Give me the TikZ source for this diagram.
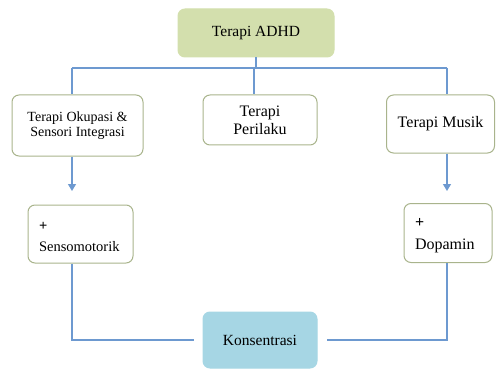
\documentclass[tikz,border=0pt]{standalone}
\usepackage{fontspec}
\setmainfont{Liberation Serif}
\usetikzlibrary{arrows.meta}
\definecolor{boxedge}{HTML}{A9B48C}
\definecolor{topfill}{HTML}{D3DFAD}
\definecolor{konfill}{HTML}{A6D6E4}
\definecolor{linkblue}{HTML}{6D99D0}
\tikzset{
  box/.style={draw=boxedge, line width=1pt, rounded corners=7pt, fill=white, align=center, inner sep=0pt, font=\fontsize{16}{18}\selectfont},
  leftbox/.style={box, align=left, inner xsep=11pt, inner ysep=0pt},
  link/.style={draw=linkblue, line width=1.3pt},
  arr/.style={link, -{Triangle[length=7pt,width=8pt]}}
}
\begin{document}
\begin{tikzpicture}[x=1pt,y=-1pt]
\useasboundingbox (0,0) rectangle (496,369);
\node[box, draw=topfill, fill=topfill, minimum width=156pt, minimum height=48pt, font=\fontsize{15.5}{18}\selectfont] (adhd) at (256,33) {Terapi ADHD};
\node[box, minimum width=131pt, minimum height=61pt, font=\fontsize{14}{15}\selectfont] (oku) at (77.5,125.5) {Terapi Okupasi \&\\Sensori Integrasi};
\node[box, minimum width=114pt, minimum height=50pt] (peri) at (260,120) {Terapi\\Perilaku};
\node[box, minimum width=108pt, minimum height=58pt] (musik) at (440.5,124) {Terapi Musik};
\node[leftbox, text width=83pt, minimum height=58pt, font=\fontsize{14.5}{21}\selectfont] (sens) at (80.5,234) {\raisebox{0pt}[14pt][0pt]{\textbf{+}}\\Sensomotorik};
\node[leftbox, text width=66pt, minimum height=59pt, font=\fontsize{16}{22}\selectfont] (dopa) at (448,233) {\raisebox{0pt}[14pt][0pt]{\textbf{+}}\\Dopamin};
\node[box, draw=konfill, fill=konfill, minimum width=114pt, minimum height=56pt, font=\fontsize{15.5}{18}\selectfont] (kons) at (260,340) {Konsentrasi};
\coordinate (bl) at (72,68);
\coordinate (br) at (447,68);
\coordinate (bm) at (254,68);
\coordinate (al) at (72,191);
\coordinate (ar) at (447,191);
\draw[link] (bl) -- (br);
\draw[link] (adhd.south) -- (adhd.south |- bl);
\draw[link] (bl) -- (oku.north -| bl);
\draw[link] (bm) -- (peri.north -| bm);
\draw[link] (br) -- (musik.north -| br);
\draw[arr] (oku.south -| al) -- (al);
\draw[arr] (musik.south -| ar) -- (ar);
\draw[link, shorten >=9pt] (sens.south -| al) |- (kons.west);
\draw[link, shorten >=9pt] (dopa.south -| ar) |- (kons.east);
\end{tikzpicture}
\end{document}
